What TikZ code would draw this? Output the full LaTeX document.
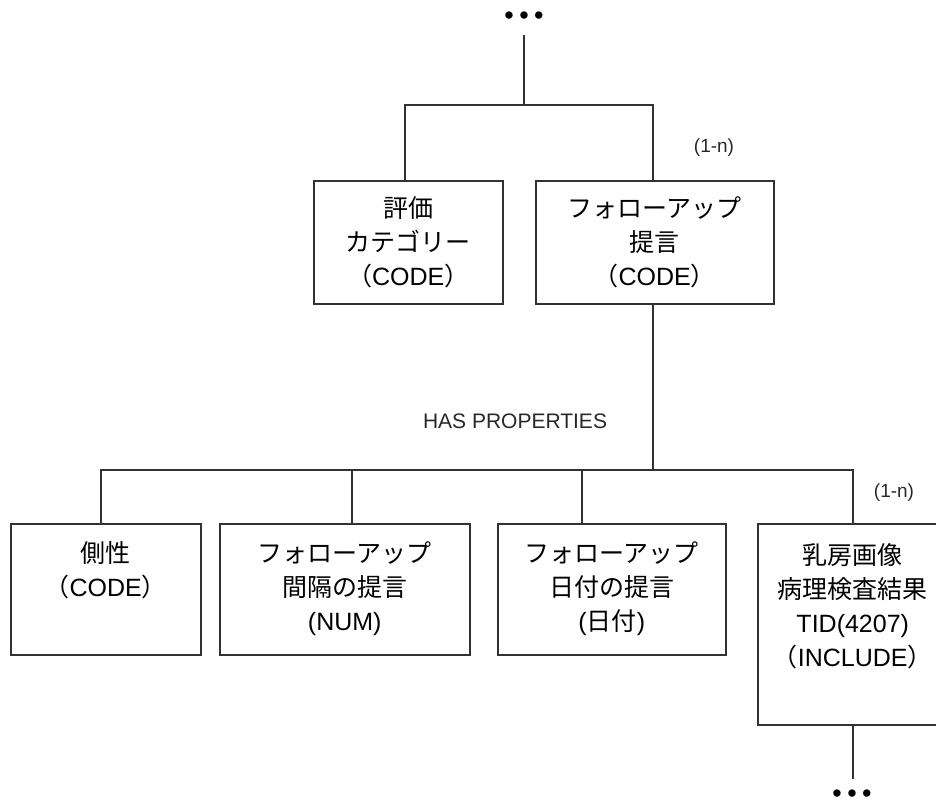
\documentclass[tikz,border=0pt]{standalone}
\usepackage{fontspec}
\setmainfont{Liberation Sans}
\newfontfamily\jp{Noto Sans CJK JP}
\usepackage{tikz}
\usetikzlibrary{positioning,calc}
\definecolor{linegray}{RGB}{50,50,50}
\definecolor{labelgray}{RGB}{40,40,40}
\newcommand{\jtxt}[1]{{\jp #1}}
\newcommand{\moredots}{•\hspace{5.5pt}•\hspace{5.5pt}•}

\begin{document}
\begin{tikzpicture}[x=1pt,y=1pt,
 box/.style={draw=linegray,line width=1.5pt,inner sep=0pt,align=center,anchor=north west,
   font=\fontsize{25}{34}\selectfont},
 toprow/.style={box,text height=37pt,text depth=86pt},
 lowrow/.style={box,text height=39pt,text depth=92pt},
 link/.style={draw=linegray,line width=1.5pt},
 card/.style={font=\fontsize{19}{22}\selectfont,text=labelgray,inner sep=0pt},
 relname/.style={font=\fontsize{21}{24}\selectfont,text=labelgray,inner sep=0pt},
 more/.style={font=\fontsize{27}{27}\selectfont,anchor=base,inner sep=0pt}
]
\useasboundingbox (0,0) rectangle (936,-807);
% upper level
\node[more] (moretop) at (524,-24) {\moredots};
\node[toprow,text width=189pt] (eval) at (313,-180) {\jtxt{評価}\\\jtxt{カテゴリー}\\\jtxt{（}CODE\jtxt{）}};
\node[toprow,text width=238pt,right=31.5pt of eval.north east,anchor=north west] (follow) {\jtxt{フォローアップ}\\\jtxt{提言}\\\jtxt{（}CODE\jtxt{）}};
\node[card] (card1) at (714,-148) {(1-n)};
\node[relname] (hasprop) at (515,-421) {HAS PROPERTIES};
% properties
\node[lowrow,text width=190pt] (side) at (10,-523) {\jtxt{側性}\\\jtxt{（}CODE\jtxt{）}};
\node[lowrow,text width=250pt,right=17.5pt of side.north east,anchor=north west] (interval) {\jtxt{フォローアップ}\\\jtxt{間隔の提言}\\(NUM)};
\node[lowrow,text width=228pt,right=26.5pt of interval.north east,anchor=north west] (date) {\jtxt{フォローアップ}\\\jtxt{日付の提言}\\(\jtxt{日付})};
\node[box,text width=190pt,text height=41pt,text depth=160pt,right=30.5pt of date.north east,anchor=north west] (incl) {\jtxt{乳房画像}\\\jtxt{病理検査結果}\\TID(4207)\\\jtxt{（}INCLUDE\jtxt{）}};
\node[card] (card2) at (894,-493) {(1-n)};
\node[more] (morebot) at (852,-802) {\moredots};
% connectors
\coordinate (head) at (524,-35);
\coordinate (bus1) at (524,-105);
\coordinate (bus2) at ([xshift=-2pt]follow.south |- 0,-470);
\coordinate (tail) at ([yshift=-53pt]incl.south);
\draw[link] (head) -- (bus1);
\draw[link] ([xshift=-3.5pt]eval.north) |- (bus1) -| ([xshift=-2pt]follow.north);
\draw[link] ([xshift=-2pt]follow.south) -- (bus2);
\draw[link] ([xshift=-5pt]side.north) |- (bus2) -| (incl.north);
\draw[link] ([xshift=7pt]interval.north) -- ([xshift=7pt]interval.north |- bus2);
\draw[link] ([xshift=-30pt]date.north) -- ([xshift=-30pt]date.north |- bus2);
\draw[link] (incl.south) -- (tail);
\end{tikzpicture}
\end{document}
